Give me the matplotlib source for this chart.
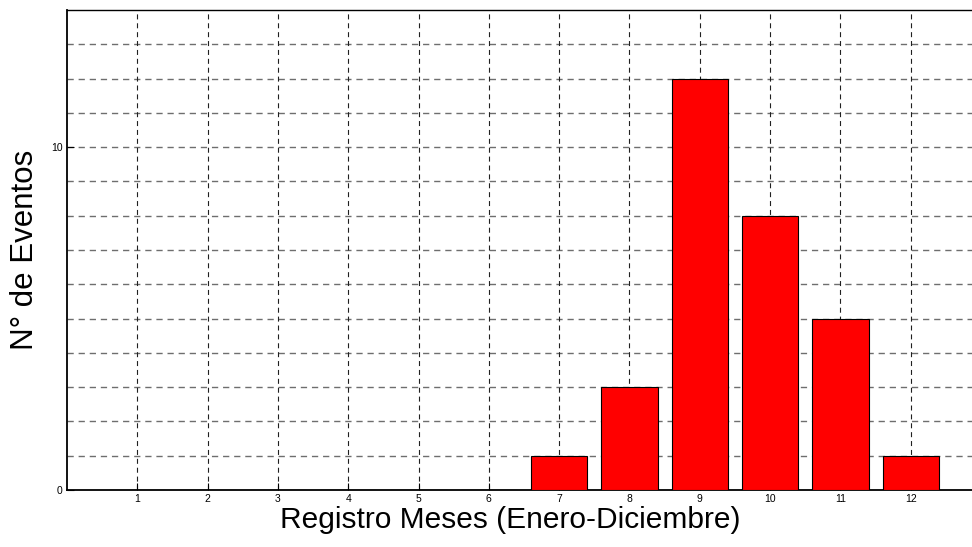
import matplotlib.pyplot as plt
import numpy as np

plt.rcParams['font.family'] = ['Liberation Sans', 'DejaVu Sans']

meses = [1, 2, 3, 4, 5, 6, 7, 8, 9, 10, 11, 12]
eventos = [0, 0, 0, 0, 0, 0, 1, 3, 12, 8, 5, 1]
yticks_lab = [0, 10]

fig = plt.figure(figsize=(9.72, 5.47), dpi=100)
W, H = 972, 547
# axes extends slightly past the right edge, as in the reference
x0, x1 = 67, 981
ax = fig.add_axes([x0 / W, (H - 490) / H, (x1 - x0) / W, (490 - 10) / H])

ax.bar(meses, eventos, width=0.8, color='#ff0000', edgecolor='black',
       linewidth=0.8, zorder=3)

ax.set_xlim(0, 13)
ax.set_ylim(0, 14)
ax.set_xticks(meses)
ax.set_yticks(yticks_lab)
ax.set_yticks(np.arange(1, 14), minor=True)
ax.tick_params(axis='both', which='major', direction='in', length=5,
               labelsize=7.5, pad=3)
ax.tick_params(axis='y', which='minor', length=0)

for y in range(1, 14):
    ax.axhline(y, color='#6e6e6e', linewidth=1.0, dashes=(4.5, 3.5), zorder=1)
for x in meses:
    ax.axvline(x, color='#202020', linewidth=0.8, dashes=(4.5, 3.5), zorder=1)

ax.spines['right'].set_visible(False)
ax.spines['left'].set_linewidth(1.3)
ax.spines['bottom'].set_linewidth(1.3)
ax.spines['top'].set_linewidth(1.0)

ax.set_xlabel('Registro Meses (Enero-Diciembre)', fontsize=21.5)
ax.set_ylabel('N° de Eventos', fontsize=22.5)
ax.xaxis.set_label_coords((510 - x0) / (x1 - x0), -0.033)
ax.yaxis.set_label_coords(-0.03, 0.5)

fig.savefig('out.png', dpi=100)
